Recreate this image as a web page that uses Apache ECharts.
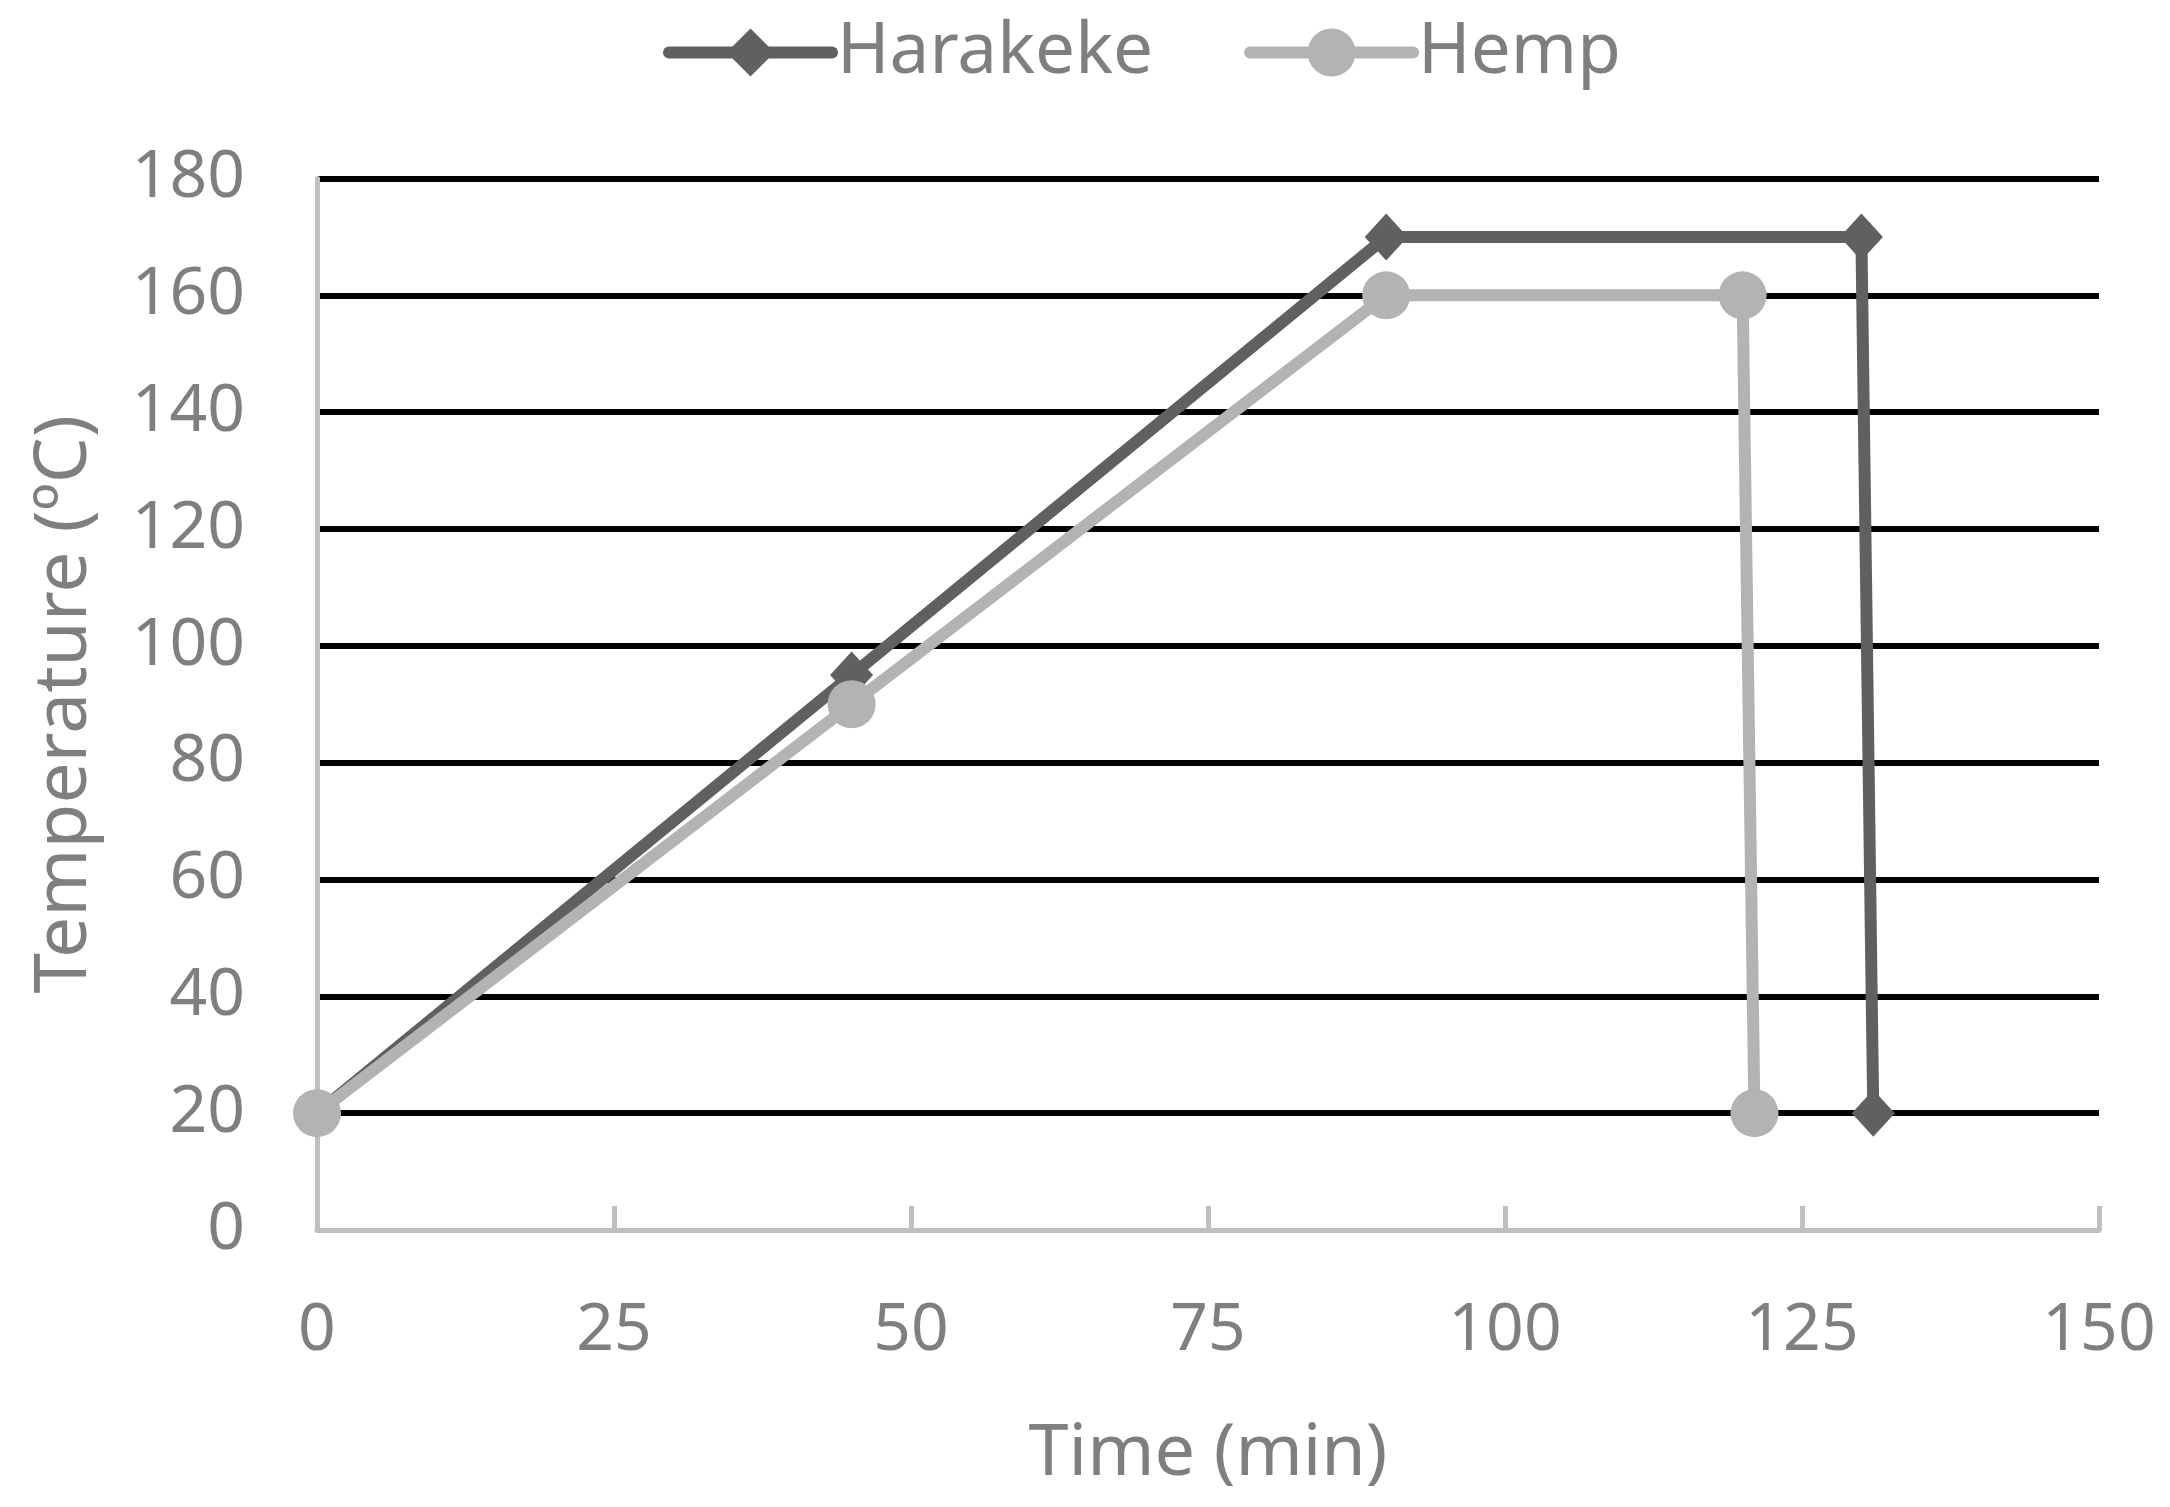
<!DOCTYPE html>
<html>
<head>
<meta charset="utf-8">
<script src="https://cdn.jsdelivr.net/npm/echarts@6/dist/echarts.min.js"></script>
<style>
  html, body { margin: 0; padding: 0; background: #fff; }
  #chart { width: 2170px; height: 1507px; }
</style>
</head>
<body>
<div id="chart"></div>
<script>
// 数据
var seriesNames = ["Harakeke", "Hemp"];
var harakekeTime = [0, 45, 90, 130, 131];
var harakekeTemp = [20, 95, 170, 170, 20];
var hempTime = [0, 45, 90, 120, 121];
var hempTemp = [20, 90, 160, 160, 20];

var FONT = "Noto Sans";
var textGray = "#7f7f7f";
var axisGray = "#bfbfbf";

function pairs(xs, ys) {
  return xs.map(function (x, i) { return [x, ys[i]]; });
}

var myChart = echarts.init(document.getElementById("chart"));
myChart.setOption({
  animation: false,
  textStyle: { fontFamily: FONT },
  legend: {
    top: 12,
    left: 658,
    itemWidth: 163,
    itemHeight: 60,
    itemGap: 91,
    lineStyle: { width: 12, cap: "round" },
    textStyle: { fontSize: 71, color: textGray, fontFamily: FONT, padding: [0, 0, 0, 0] },
    data: seriesNames
  },
  grid: {
    left: 317,
    right: 71,
    top: 178.5,
    bottom: 277
  },
  xAxis: {
    type: "value",
    min: 0,
    max: 150,
    interval: 25,
    name: "Time (min)",
    nameLocation: "middle",
    nameGap: 188,
    nameTextStyle: { fontSize: 72, color: textGray, fontFamily: FONT },
    axisLine: { show: true, lineStyle: { color: axisGray, width: 5 } },
    axisTick: { show: true, inside: true, length: 24, lineStyle: { color: axisGray, width: 5 } },
    axisLabel: { fontSize: 66, color: textGray, margin: 68, fontFamily: FONT },
    splitLine: { show: false }
  },
  yAxis: {
    type: "value",
    min: 0,
    max: 180,
    interval: 20,
    name: "Temperature (ºC)",
    nameLocation: "middle",
    nameGap: 215,
    nameTextStyle: { fontSize: 73, color: textGray, fontFamily: FONT },
    axisLine: { show: true, lineStyle: { color: axisGray, width: 5 } },
    axisTick: { show: false },
    axisLabel: { fontSize: 66, color: textGray, margin: 72, fontFamily: FONT },
    splitLine: { show: true, showMinLine: false, lineStyle: { color: "#000", width: 6 } }
  },
  series: [
    {
      name: "Harakeke",
      type: "line",
      data: pairs(harakekeTime, harakekeTemp),
      symbol: "diamond",
      symbolSize: [43, 47],
      color: "#606060",
      lineStyle: { width: 12, color: "#606060" },
      itemStyle: { color: "#606060" },
      z: 3
    },
    {
      name: "Hemp",
      type: "line",
      data: pairs(hempTime, hempTemp),
      symbol: "circle",
      symbolSize: 48,
      color: "#b3b3b3",
      lineStyle: { width: 12, color: "#b3b3b3" },
      itemStyle: { color: "#b3b3b3" },
      z: 4
    }
  ]
});
</script>
</body>
</html>
